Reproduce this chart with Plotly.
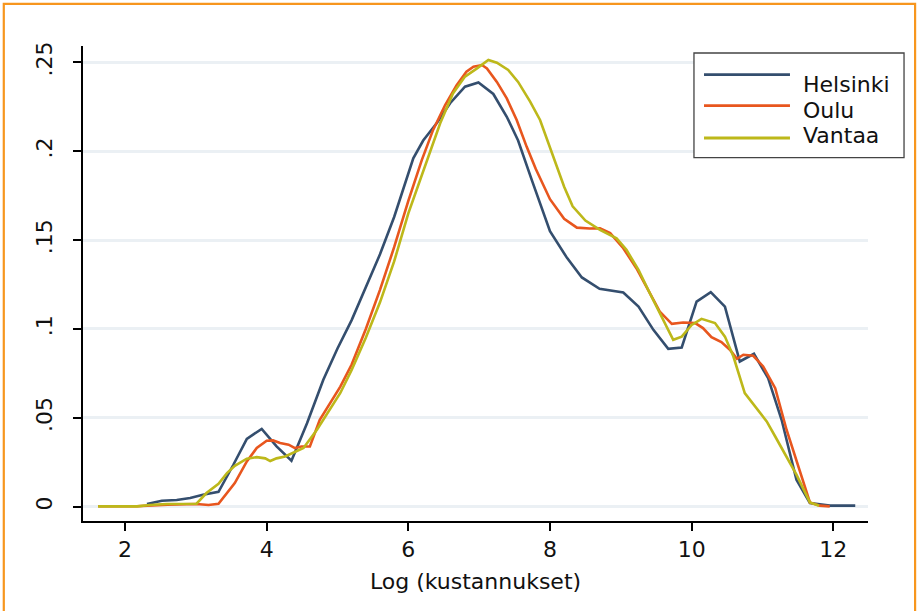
import plotly.graph_objects as go

# ---------------- data ----------------
helsinki_x = [2.31, 2.52, 2.73, 2.92, 3.10, 3.32, 3.53, 3.72, 3.93, 4.14, 4.35, 4.57,
              4.80, 5.00, 5.20, 5.40, 5.60, 5.80, 6.07, 6.21, 6.40, 6.59, 6.80, 6.99,
              7.20, 7.39, 7.55, 7.75, 8.00, 8.24, 8.45, 8.70, 9.035, 9.25, 9.46, 9.67,
              9.86, 10.07, 10.27, 10.47, 10.68, 10.88, 11.08, 11.27, 11.48, 11.67,
              11.95, 12.31]
helsinki_y = [0.0015, 0.0034, 0.0038, 0.0049, 0.0067, 0.0084, 0.0236, 0.0382, 0.0438,
              0.0339, 0.0259, 0.0470, 0.0714, 0.0890, 0.1050, 0.1230, 0.1420, 0.1630,
              0.1960, 0.2060, 0.2157, 0.2270, 0.2363, 0.2387, 0.2322, 0.2194, 0.2060,
              0.1830, 0.1550, 0.1400, 0.1290, 0.1226, 0.1205, 0.1126, 0.0995, 0.0888,
              0.0896, 0.1154, 0.1207, 0.1126, 0.0817, 0.0860, 0.0723, 0.0489, 0.0152,
              0.0021, 0.0006, 0.0006]

oulu_x = [1.62, 2.17, 2.60, 3.01, 3.18, 3.32, 3.55, 3.72, 3.86, 4.00, 4.09, 4.19, 4.31,
          4.40, 4.49, 4.61, 4.75, 5.04, 5.20, 5.40, 5.60, 5.80, 6.00, 6.19, 6.35, 6.52,
          6.68, 6.82, 6.92, 7.04, 7.11, 7.25, 7.39, 7.53, 7.67, 7.80, 8.00, 8.20, 8.38,
          8.56, 8.706, 8.85, 9.035, 9.22, 9.41, 9.55, 9.72, 9.88, 10.05, 10.16, 10.28,
          10.42, 10.54, 10.64, 10.73, 10.87, 11.01, 11.18, 11.34, 11.51, 11.67, 11.81,
          11.95]
oulu_y = [0.0003, 0.0003, 0.0012, 0.0015, 0.0010, 0.0017, 0.0133, 0.0255, 0.0330, 0.0371,
          0.0373, 0.0358, 0.0349, 0.0330, 0.0339, 0.0339, 0.0489, 0.0676, 0.0800, 0.1000,
          0.1220, 0.1460, 0.1720, 0.1950, 0.2120, 0.2260, 0.2370, 0.2447, 0.2475, 0.2485,
          0.2466, 0.2390, 0.2297, 0.2176, 0.2026, 0.1900, 0.1730, 0.1620, 0.1570, 0.1565,
          0.1567, 0.1539, 0.1454, 0.1342, 0.1201, 0.1098, 0.1029, 0.1036, 0.1033, 0.1005,
          0.0954, 0.0926, 0.0883, 0.0832, 0.0855, 0.0849, 0.0789, 0.0667, 0.0433, 0.0227,
          0.0024, 0.0006, 0.0002]

vantaa_x = [1.62, 2.17, 2.35, 2.59, 3.01, 3.15, 3.32, 3.44, 3.55, 3.72, 3.86, 3.98, 4.05,
            4.14, 4.26, 4.38, 4.52, 4.71, 4.89, 5.04, 5.20, 5.40, 5.60, 5.80, 6.00, 6.26,
            6.45, 6.63, 6.80, 6.97, 7.13, 7.25, 7.41, 7.55, 7.72, 7.86, 8.05, 8.20, 8.32,
            8.50, 8.706, 8.94, 9.08, 9.25, 9.41, 9.58, 9.74, 9.86, 10.00, 10.14, 10.33,
            10.47, 10.59, 10.75, 10.92, 11.06, 11.18, 11.32, 11.48, 11.67, 11.80]
vantaa_y = [0.0002, 0.0002, 0.0010, 0.0015, 0.0017, 0.0077, 0.0129, 0.0189, 0.0230,
            0.0270, 0.0279, 0.0272, 0.0257, 0.0272, 0.0283, 0.0305, 0.0330, 0.0433,
            0.0545, 0.0640, 0.0770, 0.0950, 0.1150, 0.1380, 0.1650, 0.1950, 0.2157,
            0.2325, 0.2420, 0.2466, 0.2513, 0.2498, 0.2457, 0.2390, 0.2279, 0.2176,
            0.1960, 0.1800, 0.1690, 0.1610, 0.1557, 0.1510, 0.1445, 0.1332, 0.1201,
            0.1070, 0.0939, 0.0957, 0.1023, 0.1057, 0.1033, 0.0957, 0.0845, 0.0639,
            0.0555, 0.0480, 0.0395, 0.0292, 0.0180, 0.0024, 0.0005]

series_names = ["Helsinki", "Oulu", "Vantaa"]
series_colors = ["#344E6E", "#E8561E", "#BDB81A"]

x_tickvals = [2, 4, 6, 8, 10, 12]
y_tickvals = [0, 0.05, 0.10, 0.15, 0.20, 0.25]
y_ticktext = ["0", ".05", ".1", ".15", ".2", ".25"]
x_title = "Log (kustannukset)"

# ---------------- figure ----------------
FONT = "DejaVu Sans"
fig = go.Figure()
for name, xs, ys, col in zip(series_names,
                             [helsinki_x, oulu_x, vantaa_x],
                             [helsinki_y, oulu_y, vantaa_y],
                             series_colors):
    fig.add_trace(go.Scatter(x=xs, y=ys, mode="lines", name=name,
                             line=dict(color=col, width=2.6),
                             showlegend=False))

fig.update_layout(
    width=918, height=611,
    margin=dict(l=83, r=50, t=46, b=90),
    paper_bgcolor="white", plot_bgcolor="white",
    font=dict(family=FONT, size=22, color="#111111"),
    xaxis=dict(range=[1.407, 12.49], tickvals=x_tickvals,
               showgrid=False, zeroline=False,
               showline=True, linecolor="black", linewidth=1.6,
               ticks="outside", ticklen=8, tickwidth=1.6, tickcolor="black",
               tickfont=dict(size=22),
               title=dict(text=x_title, font=dict(size=22), standoff=12)),
    yaxis=dict(range=[-0.00804, 0.2592], tickvals=y_tickvals, ticktext=y_ticktext,
               tickangle=-90, ticklabelstandoff=12,
               showgrid=True, gridcolor="#EBF0F4", gridwidth=2.5,
               zeroline=False,
               showline=True, linecolor="black", linewidth=1.6,
               ticks="outside", ticklen=8, tickwidth=1.6, tickcolor="black",
               tickfont=dict(size=22)),
)

# orange outer border of the graph region
fig.add_shape(type="rect", xref="paper", yref="paper",
              x0=-0.1009, x1=1.0600, y0=-0.205, y1=1.0886,
              line=dict(color="#F7961E", width=2.2), fillcolor="rgba(0,0,0,0)",
              layer="above")

# legend (drawn as a box with keys and labels)
fig.add_shape(type="rect", xref="paper", yref="paper",
              x0=0.7783, x1=1.0459, y0=0.7648, y1=0.9853,
              line=dict(color="#444444", width=1.3), fillcolor="white", layer="above")
key_y = [0.9396, 0.8743, 0.8063]
lab_y = [0.9192, 0.8648, 0.8122]
for name, col, ky, ly in zip(series_names, series_colors, key_y, lab_y):
    fig.add_shape(type="line", xref="paper", yref="paper",
                  x0=0.7911, x1=0.9006, y0=ky, y1=ky,
                  line=dict(color=col, width=2.8), layer="above")
    fig.add_annotation(xref="paper", yref="paper", x=0.9150, y=ly,
                       text=name, showarrow=False, xanchor="left", yanchor="middle",
                       font=dict(family=FONT, size=22, color="#111111"))

fig.write_html("out.html",
               config={"displayModeBar": False},
               post_script="document.body.style.margin='0';document.body.style.overflow='hidden';")
